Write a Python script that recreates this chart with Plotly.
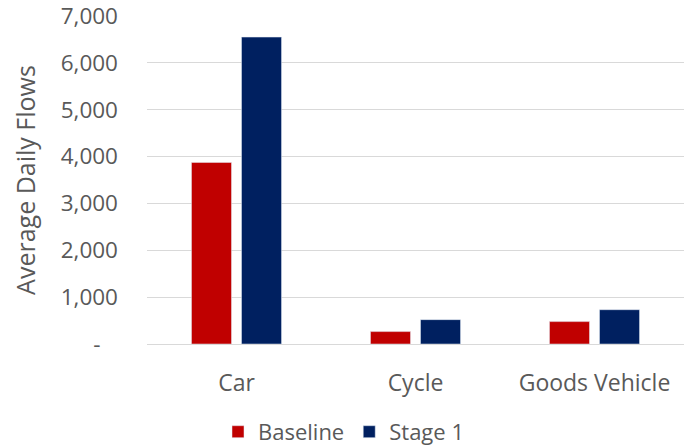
import plotly.graph_objects as go

categories = ["Car", "Cycle", "Goods Vehicle"]
baseline = [3875, 265, 478]
stage1 = [6550, 520, 732]
y_tickvals = [0, 1000, 2000, 3000, 4000, 5000, 6000, 7000]
y_ticktext = ["-\u00a0\u00a0\u00a0", "1,000", "2,000", "3,000", "4,000", "5,000", "6,000", "7,000"]

FONT = "Open Sans"
GREY = "#595959"

fig = go.Figure()
fig.add_trace(go.Bar(name="Baseline", x=categories, y=baseline, marker_color="#C00000"))
fig.add_trace(go.Bar(name="Stage 1", x=categories, y=stage1, marker_color="#002060"))

fig.update_layout(
    width=687, height=448,
    margin=dict(l=147, r=3, t=16, b=103.5, autoexpand=False),
    paper_bgcolor="white", plot_bgcolor="white",
    barmode="group", bargap=0.441, bargroupgap=0.2,
    font=dict(family=FONT, size=22, color=GREY),
    showlegend=True,
    legend=dict(orientation="h", xref="container", x=0.5, xanchor="center",
                yref="paper", y=-0.268, yanchor="middle",
                font=dict(family=FONT, size=22, color=GREY),
                itemclick=False, traceorder="normal"),
)
fig.update_yaxes(range=[0, 7000], tickvals=y_tickvals, ticktext=y_ticktext,
                 showgrid=True, gridcolor="#d9d9d9", gridwidth=1.3,
                 zeroline=True, zerolinecolor="#d9d9d9", zerolinewidth=1.3,
                 showline=False, ticks="", ticklabelstandoff=28,
                 ticklabeloverflow="allow",
                 title=dict(text="Average Daily Flows", standoff=17,
                            font=dict(family=FONT, size=25, color=GREY)),
                 tickfont=dict(family=FONT, size=22.5, color=GREY))
fig.update_xaxes(showline=False, ticks="", ticklabelstandoff=23,
                 ticklabeloverflow="allow",
                 tickfont=dict(family=FONT, size=23, color=GREY))

fig.write_html("out.html")
